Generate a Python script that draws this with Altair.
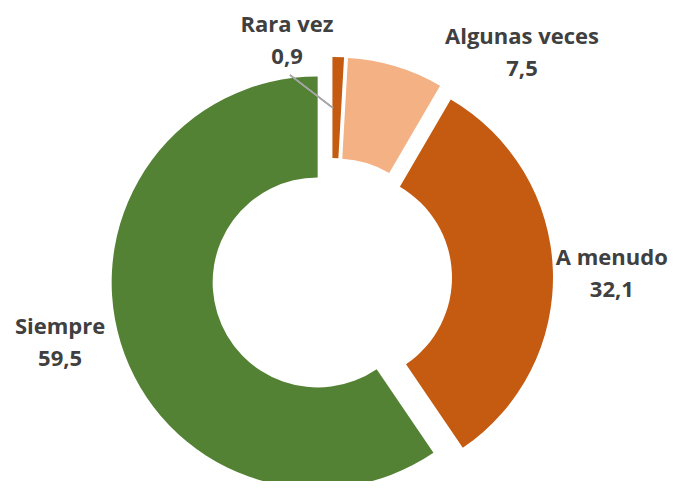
import math
import altair as alt
import pandas as pd

# ---- data ----
categories = ["Rara vez", "Algunas veces", "A menudo", "Siempre"]
values = [0.9, 7.5, 32.1, 59.5]
value_text = ["0,9", "7,5", "32,1", "59,5"]

# ---- style ----
slice_colors = ["#C55A11", "#F4B183", "#C55A11", "#548235"]
OUTER_R = 206
INNER_R = 105
EXPLODE = 15
LABEL_R = 250
# fine adjustments of each label (pixels)
label_adjust = {
    "Rara vez": (-52, -3),
    "Algunas veces": (118, -2),
    "A menudo": (30, -11),
    "Siempre": (-33, -25),
}
TEXT_COLOR = "#404040"
FONT = "Open Sans"

total = sum(values)
df = pd.DataFrame({
    "categoria": categories,
    "valor": values,
    "texto": value_text,
    "orden": list(range(len(categories))),
})
df["etiqueta"] = df["categoria"] + "\n" + df["texto"]

theta_scale = alt.Scale(domain=[0, total], range=[0, 2 * math.pi])
color_scale = alt.Scale(domain=categories, range=slice_colors)

base = alt.Chart(df).transform_window(
    fin="sum(valor)", sort=[alt.SortField("orden")], frame=[None, 0]
).transform_calculate(
    ini="datum.fin - datum.valor",
    mid="datum.fin - datum.valor / 2",
)

layers = []
cum = 0.0
for cat, v in zip(categories, values):
    a = (cum + v / 2) / total * 2 * math.pi
    cum += v
    ox = EXPLODE * math.sin(a)
    oy = -EXPLODE * math.cos(a)
    arc = base.transform_filter(alt.datum.categoria == cat).mark_arc(
        outerRadius=OUTER_R, innerRadius=INNER_R, xOffset=ox, yOffset=oy
    ).encode(
        theta=alt.Theta("ini:Q", scale=theta_scale, stack=None),
        theta2="fin:Q",
        color=alt.Color("categoria:N", scale=color_scale, legend=None),
    )
    layers.append(arc)

for cat in categories:
    dx, dy = label_adjust[cat]
    txt = base.transform_filter(alt.datum.categoria == cat).mark_text(
        radius=LABEL_R, dx=dx, dy=dy, lineBreak="\n", font=FONT,
        fontSize=22, fontWeight="bold", color=TEXT_COLOR,
        align="center", baseline="middle", lineHeight=32,
    ).encode(
        theta=alt.Theta("mid:Q", scale=theta_scale, stack=None),
        text="etiqueta:N",
    )
    layers.append(txt)

leader = alt.Chart(df).mark_rule(color="#A6A6A6", strokeWidth=1.5).encode(
    x=alt.value(282), y=alt.value(0), x2=alt.value(325), y2=alt.value(33)
)
layers.append(leader)

chart = alt.layer(*layers).properties(
    width=648, height=406,
    padding={"left": 0, "top": 67, "right": 13, "bottom": 0},
    autosize=alt.AutoSizeParams(type="none"),
).configure_view(stroke=None)

chart.save("out.html", embed_options={"renderer": "svg", "actions": False})
